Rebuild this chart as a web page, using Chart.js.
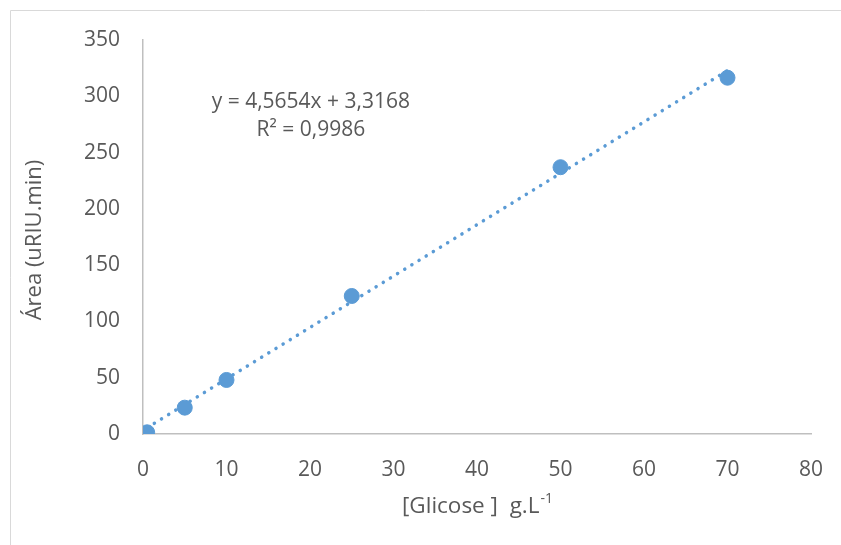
<!DOCTYPE html>
<html>
<head>
<meta charset="utf-8">
<script src="https://cdn.jsdelivr.net/npm/chart.js@4"></script>
<style>
  html, body { margin: 0; padding: 0; background: #fff; }
  #wrap { width: 841px; height: 545px; }
</style>
</head>
<body>
<div id="wrap"><canvas id="curva" width="841" height="545"></canvas></div>
<script>
// concentração de glicose (g/L) e área do pico
var glicose = [0.5, 5, 10, 25, 50, 70];
var area = [1.5, 23.4, 48, 122.6, 237, 316.5];

// linha de tendência (extremos)
var tendX = [0.5, 70];
var tendY = [5.6, 322.9];

var xTicks = [0, 10, 20, 30, 40, 50, 60, 70, 80];
var yTicks = [0, 50, 100, 150, 200, 250, 300, 350];

var equacao = "y = 4,5654x + 3,3168";
var r2 = "R² = 0,9986";

var cinza = "#595959";
var azul = "#5B9BD5";
var fonte = "'Open Sans', sans-serif";

var textos = {
    id: "textos",
    afterDraw: function (chart) {
        var ctx = chart.ctx;
        var xs = chart.scales.x, ys = chart.scales.y;
        ctx.save();
        // moldura
        ctx.strokeStyle = "#d9d9d9";
        ctx.lineWidth = 1;
        ctx.beginPath();
        ctx.moveTo(10.5, 545);
        ctx.lineTo(10.5, 10.5);
        ctx.lineTo(841, 10.5);
        ctx.stroke();

        ctx.fillStyle = cinza;
        ctx.textAlign = "center";
        ctx.textBaseline = "middle";
        ctx.font = "21px " + fonte;
        var ex = xs.getPixelForValue(20.1);
        ctx.fillText(equacao, ex, ys.getPixelForValue(295));
        ctx.fillText(r2, ex, ys.getPixelForValue(270));

        // título eixo x com expoente
        ctx.textAlign = "left";
        ctx.textBaseline = "alphabetic";
        ctx.font = "22.5px " + fonte;
        var base = "[Glicose ]  g.L";
        var w1 = ctx.measureText(base).width;
        ctx.font = "14px " + fonte;
        var w2 = ctx.measureText("-1").width;
        var x0 = 477 - (w1 + w2) / 2;
        ctx.font = "22.5px " + fonte;
        ctx.fillText(base, x0, 513);
        ctx.font = "14px " + fonte;
        ctx.fillText("-1", x0 + w1 + 1, 503);

        // título eixo y
        ctx.translate(35, 240);
        ctx.rotate(-Math.PI / 2);
        ctx.textAlign = "center";
        ctx.textBaseline = "middle";
        ctx.font = "22px " + fonte;
        ctx.fillText("Área (uRIU.min)", 0, 0);
        ctx.restore();
    }
};

function criaGrafico() {
    var pontos = glicose.map(function (g, i) { return { x: g, y: area[i] }; });
    var tendencia = tendX.map(function (g, i) { return { x: g, y: tendY[i] }; });

    var config = {
        type: "scatter",
        data: {
            datasets: [{
                label: "Área",
                data: pontos,
                backgroundColor: azul,
                borderColor: azul,
                pointRadius: 7.5,
                pointHoverRadius: 7.5,
                order: 0
            }, {
                label: "Tendência",
                data: tendencia,
                showLine: true,
                borderColor: azul,
                borderWidth: 3.5,
                borderDash: [0.1, 8.3],
                borderCapStyle: "round",
                pointRadius: 0,
                order: 1
            }]
        },
        options: {
            responsive: false,
            animation: false,
            events: [],
            layout: { padding: { top: 40, right: 30, bottom: 0, left: 0 } },
            plugins: {
                legend: { display: false },
                tooltip: { enabled: false }
            },
            scales: {
                x: {
                    type: "linear",
                    min: 0,
                    max: 80,
                    afterBuildTicks: function (s) { s.ticks = xTicks.map(function (v) { return { value: v }; }); },
                    afterFit: function (s) { s.height = 111; },
                    grid: { display: false },
                    border: { display: true, color: "#bfbfbf", width: 1.5 },
                    ticks: { color: cinza, font: { family: fonte, size: 21 }, padding: 15, maxRotation: 0 }
                },
                y: {
                    type: "linear",
                    min: 0,
                    max: 350,
                    afterBuildTicks: function (s) { s.ticks = yTicks.map(function (v) { return { value: v }; }); },
                    afterFit: function (s) { s.width = 143; },
                    grid: { display: false },
                    border: { display: true, color: "#bfbfbf", width: 1.5 },
                    ticks: { color: cinza, font: { family: fonte, size: 21 }, padding: 15 }
                }
            }
        },
        plugins: [textos]
    };
    new Chart(document.getElementById("curva").getContext("2d"), config);
}

criaGrafico();
</script>
</body>
</html>
